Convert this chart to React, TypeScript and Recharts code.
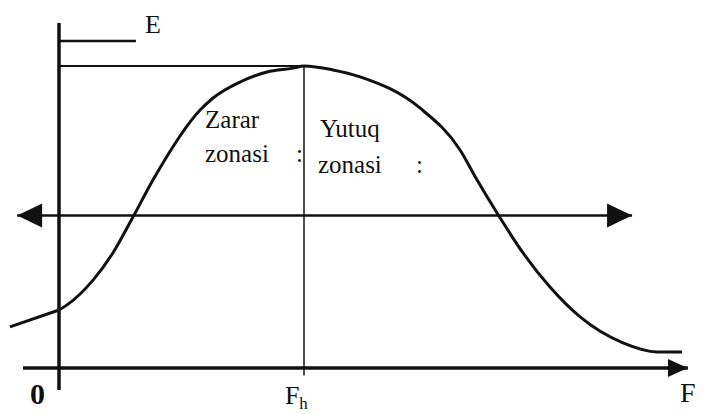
import React from 'react';
import { ComposedChart, Line, Scatter, XAxis, YAxis } from 'recharts';

// units: F_h = 10 on the F axis, E = 10 on the vertical axis
const leftTail = [
  { x: -2.0, y: 1.36 },
  { x: 0, y: 1.92 },
];

const curve = [
  { x: 0, y: 1.92 },
  { x: 0.33, y: 2.09 },
  { x: 1.39, y: 2.91 },
  { x: 2.2, y: 3.81 },
  { x: 3.02, y: 5.0 },
  { x: 3.84, y: 6.23 },
  { x: 5.76, y: 8.54 },
  { x: 6.29, y: 8.94 },
  { x: 7.39, y: 9.47 },
  { x: 8.49, y: 9.8 },
  { x: 9.55, y: 9.93 },
  { x: 10, y: 10 },
  { x: 11.18, y: 9.87 },
  { x: 12.29, y: 9.64 },
  { x: 14.73, y: 8.61 },
  { x: 16.37, y: 7.22 },
  { x: 17.06, y: 6.23 },
  { x: 17.88, y: 5.13 },
  { x: 18.94, y: 3.81 },
  { x: 20.04, y: 2.68 },
  { x: 21.27, y: 1.69 },
  { x: 23.02, y: 0.83 },
  { x: 24.41, y: 0.53 },
  { x: 25.43, y: 0.53 },
];

const yAxisLine = [
  { x: 0, y: -0.73 },
  { x: 0, y: 11.42 },
];
const xAxisLine = [
  { x: -1.47, y: 0 },
  { x: 25.67, y: 0 },
];
const eTick = [
  { x: 0, y: 10.83 },
  { x: 3.14, y: 10.83 },
];
const eLevel = [
  { x: 0, y: 10 },
  { x: 10, y: 10 },
];
const fhLine = [
  { x: 10, y: -0.25 },
  { x: 10, y: 10 },
];
const zoneArrow = [
  { x: -1.71, y: 5.05 },
  { x: 23.39, y: 5.05 },
];

const arrowHeads = [
  { x: -1.71, y: 5.05, dir: 'left', kind: 'big' },
  { x: 23.39, y: 5.05, dir: 'right', kind: 'big' },
  { x: 25.67, y: 0, dir: 'right', kind: 'axis' },
];

const zoneLabels = [
  { x: 5.96, y: 7.95, text: 'Zarar' },
  { x: 5.96, y: 6.82, text: 'zonasi' },
  { x: 9.67, y: 6.82, text: ':' },
  { x: 10.65, y: 7.65, text: 'Yutuq' },
  { x: 10.57, y: 6.46, text: 'zonasi' },
  { x: 14.57, y: 6.46, text: ':' },
];

const eLabel = [{ x: 3.51, y: 11.09, text: 'E' }];
const originLabel = [{ x: -1.18, y: -1.19, text: '0' }];
const fLabel = [{ x: 25.35, y: -1.13, text: 'F' }];
const fhLabel = [{ x: 9.22, y: -1.2, text: 'F', sub: 'h' }];

const INK = '#111';
const FONT = 'Times New Roman, Liberation Serif, DejaVu Serif, serif';

const Arrow = (props: any) => {
  const { cx, cy, payload } = props;
  const len = payload.kind === 'axis' ? 20 : 25;
  const half = payload.kind === 'axis' ? 9 : 12;
  const s = payload.dir === 'left' ? 1 : -1;
  const pts = `${cx},${cy} ${cx + s * len},${cy - half} ${cx + s * len},${cy + half}`;
  return <polygon points={pts} fill={INK} />;
};

const makeText = (size: number, weight: string) => (props: any) => {
  const { cx, cy, payload } = props;
  return (
    <text x={cx} y={cy} fontFamily={FONT} fontSize={size} fontWeight={weight} fill={INK}>
      {payload.text}
      {payload.sub ? (
        <tspan fontSize={size * 0.65} dy={5}>
          {payload.sub}
        </tspan>
      ) : null}
    </text>
  );
};

const seg = (data: any[], width: number, key: string, type: any = 'linear') => (
  <Line
    key={key}
    data={data}
    dataKey="y"
    type={type}
    stroke={INK}
    strokeWidth={width}
    dot={false}
    activeDot={false}
    isAnimationActive={false}
    legendType="none"
  />
);

export default function App() {
  return (
    <div style={{ width: 721, height: 414, background: '#fff', fontFamily: FONT }}>
      <style>{'body{margin:0}'}</style>
      <ComposedChart width={721} height={414} margin={{ top: 0, right: 0, bottom: 0, left: 0 }}>
        <XAxis dataKey="x" type="number" domain={[-2.408, 27.02]} hide allowDataOverflow />
        <YAxis dataKey="y" type="number" domain={[-1.523, 12.185]} hide allowDataOverflow />
        {seg(yAxisLine, 3.5, 'yaxis')}
        {seg(xAxisLine, 3.5, 'xaxis')}
        {seg(eTick, 2.5, 'etick')}
        {seg(eLevel, 1.8, 'elevel')}
        {seg(fhLine, 1.5, 'fh')}
        {seg(zoneArrow, 2.5, 'zone')}
        {seg(leftTail, 3, 'tail')}
        {seg(curve, 3, 'curve', 'monotone')}
        <Scatter data={arrowHeads} shape={Arrow} isAnimationActive={false} />
        <Scatter data={zoneLabels} shape={makeText(25, 'normal')} isAnimationActive={false} />
        <Scatter data={eLabel} shape={makeText(26, 'normal')} isAnimationActive={false} />
        <Scatter data={originLabel} shape={makeText(30, 'bold')} isAnimationActive={false} />
        <Scatter data={fLabel} shape={makeText(28, 'normal')} isAnimationActive={false} />
        <Scatter data={fhLabel} shape={makeText(26, 'normal')} isAnimationActive={false} />
      </ComposedChart>
    </div>
  );
}
